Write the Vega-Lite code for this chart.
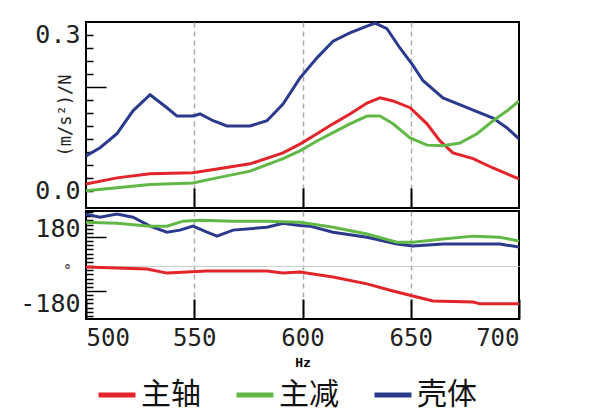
{
  "$schema": "https://vega.github.io/schema/vega-lite/v6.json",
  "padding": {"left": 18, "top": 21, "right": 80, "bottom": 0},
  "background": "white",
  "spacing": 0,
  "datasets": {
    "mag": [
      {"p": "壳体", "hz": 500, "v": 0.067}, {"p": "壳体", "hz": 506.5, "v": 0.083}, {"p": "壳体", "hz": 514.3, "v": 0.110}, {"p": "壳体", "hz": 521.7, "v": 0.154}, {"p": "壳体", "hz": 529.6, "v": 0.185}, {"p": "壳体", "hz": 537.4, "v": 0.160}, {"p": "壳体", "hz": 542, "v": 0.144}, {"p": "壳体", "hz": 549.4, "v": 0.144}, {"p": "壳体", "hz": 552.7, "v": 0.148}, {"p": "壳体", "hz": 558.7, "v": 0.135}, {"p": "壳体", "hz": 565.1, "v": 0.125}, {"p": "壳体", "hz": 575.8, "v": 0.125}, {"p": "壳体", "hz": 583.6, "v": 0.135}, {"p": "壳体", "hz": 591, "v": 0.167}, {"p": "壳体", "hz": 598.8, "v": 0.217}, {"p": "壳体", "hz": 606.7, "v": 0.256}, {"p": "壳体", "hz": 614.1, "v": 0.288}, {"p": "壳体", "hz": 621.9, "v": 0.304}, {"p": "壳体", "hz": 629.8, "v": 0.317}, {"p": "壳体", "hz": 633.5, "v": 0.323}, {"p": "壳体", "hz": 639, "v": 0.312}, {"p": "壳体", "hz": 645, "v": 0.275}, {"p": "壳体", "hz": 650.6, "v": 0.244}, {"p": "壳体", "hz": 655.7, "v": 0.212}, {"p": "壳体", "hz": 664.9, "v": 0.179}, {"p": "壳体", "hz": 676, "v": 0.160}, {"p": "壳体", "hz": 688, "v": 0.140}, {"p": "壳体", "hz": 694.5, "v": 0.121}, {"p": "壳体", "hz": 700, "v": 0.100},
      {"p": "主轴", "hz": 500, "v": 0.013}, {"p": "主轴", "hz": 514.3, "v": 0.025}, {"p": "主轴", "hz": 529.6, "v": 0.033}, {"p": "主轴", "hz": 549.4, "v": 0.035}, {"p": "主轴", "hz": 560.5, "v": 0.042}, {"p": "主轴", "hz": 575.8, "v": 0.052}, {"p": "主轴", "hz": 591, "v": 0.073}, {"p": "主轴", "hz": 598.8, "v": 0.090}, {"p": "主轴", "hz": 606.7, "v": 0.110}, {"p": "主轴", "hz": 614.1, "v": 0.129}, {"p": "主轴", "hz": 621.9, "v": 0.148}, {"p": "主轴", "hz": 629.8, "v": 0.169}, {"p": "主轴", "hz": 635.8, "v": 0.179}, {"p": "主轴", "hz": 641.8, "v": 0.173}, {"p": "主轴", "hz": 649.7, "v": 0.160}, {"p": "主轴", "hz": 657.5, "v": 0.129}, {"p": "主轴", "hz": 663.5, "v": 0.096}, {"p": "主轴", "hz": 669.5, "v": 0.073}, {"p": "主轴", "hz": 678.8, "v": 0.062}, {"p": "主轴", "hz": 688, "v": 0.044}, {"p": "主轴", "hz": 700, "v": 0.023},
      {"p": "主减", "hz": 500, "v": 0.0}, {"p": "主减", "hz": 514.3, "v": 0.006}, {"p": "主减", "hz": 529.6, "v": 0.012}, {"p": "主减", "hz": 549.4, "v": 0.015}, {"p": "主减", "hz": 560.5, "v": 0.025}, {"p": "主减", "hz": 575.8, "v": 0.038}, {"p": "主减", "hz": 591, "v": 0.062}, {"p": "主减", "hz": 598.8, "v": 0.077}, {"p": "主减", "hz": 606.7, "v": 0.096}, {"p": "主减", "hz": 614.1, "v": 0.112}, {"p": "主减", "hz": 621.9, "v": 0.129}, {"p": "主减", "hz": 629.8, "v": 0.144}, {"p": "主减", "hz": 635.8, "v": 0.144}, {"p": "主减", "hz": 641.8, "v": 0.129}, {"p": "主减", "hz": 649.7, "v": 0.102}, {"p": "主减", "hz": 657.5, "v": 0.088}, {"p": "主减", "hz": 664.9, "v": 0.087}, {"p": "主减", "hz": 672.7, "v": 0.092}, {"p": "主减", "hz": 680.6, "v": 0.110}, {"p": "主减", "hz": 688, "v": 0.135}, {"p": "主减", "hz": 694.5, "v": 0.154}, {"p": "主减", "hz": 700, "v": 0.173}
    ],
    "phase": [
      {"p": "壳体", "hz": 500, "v": 250}, {"p": "壳体", "hz": 506.5, "v": 235}, {"p": "壳体", "hz": 514.3, "v": 250}, {"p": "壳体", "hz": 521.7, "v": 235}, {"p": "壳体", "hz": 529.6, "v": 192}, {"p": "壳体", "hz": 537.4, "v": 163}, {"p": "壳体", "hz": 543.4, "v": 173}, {"p": "壳体", "hz": 549.4, "v": 192}, {"p": "壳体", "hz": 555.9, "v": 163}, {"p": "壳体", "hz": 560.5, "v": 144}, {"p": "壳体", "hz": 567.9, "v": 173}, {"p": "壳体", "hz": 583.6, "v": 187}, {"p": "壳体", "hz": 591, "v": 206}, {"p": "壳体", "hz": 598.8, "v": 195}, {"p": "壳体", "hz": 603.5, "v": 192}, {"p": "壳体", "hz": 614.1, "v": 163}, {"p": "壳体", "hz": 629.8, "v": 139}, {"p": "壳体", "hz": 643.6, "v": 106}, {"p": "壳体", "hz": 651, "v": 96}, {"p": "壳体", "hz": 664.9, "v": 106}, {"p": "壳体", "hz": 691.2, "v": 106}, {"p": "壳体", "hz": 700, "v": 91},
      {"p": "主减", "hz": 500, "v": 211}, {"p": "主减", "hz": 514.3, "v": 206}, {"p": "主减", "hz": 529.6, "v": 192}, {"p": "主减", "hz": 537.4, "v": 192}, {"p": "主减", "hz": 544.8, "v": 216}, {"p": "主减", "hz": 552.7, "v": 221}, {"p": "主减", "hz": 567.9, "v": 216}, {"p": "主减", "hz": 583.6, "v": 216}, {"p": "主减", "hz": 598.8, "v": 211}, {"p": "主减", "hz": 614.1, "v": 187}, {"p": "主减", "hz": 629.8, "v": 154}, {"p": "主减", "hz": 643.6, "v": 115}, {"p": "主减", "hz": 651, "v": 115}, {"p": "主减", "hz": 664.9, "v": 130}, {"p": "主减", "hz": 678.8, "v": 144}, {"p": "主减", "hz": 691.2, "v": 139}, {"p": "主减", "hz": 700, "v": 120},
      {"p": "主轴", "hz": 500, "v": -5}, {"p": "主轴", "hz": 528.2, "v": -14}, {"p": "主轴", "hz": 537.4, "v": -34}, {"p": "主轴", "hz": 555.9, "v": -24}, {"p": "主轴", "hz": 583.6, "v": -24}, {"p": "主轴", "hz": 591, "v": -34}, {"p": "主轴", "hz": 598.8, "v": -29}, {"p": "主轴", "hz": 614.1, "v": -53}, {"p": "主轴", "hz": 629.8, "v": -86}, {"p": "主轴", "hz": 641.8, "v": -120}, {"p": "主轴", "hz": 651, "v": -144}, {"p": "主轴", "hz": 660.3, "v": -168}, {"p": "主轴", "hz": 678.8, "v": -173}, {"p": "主轴", "hz": 682, "v": -182}, {"p": "主轴", "hz": 700, "v": -182}
    ]
  },
  "vconcat": [
    {
      "data": {"name": "mag"},
      "width": 433,
      "height": 186,
      "mark": {"type": "line", "strokeWidth": 3, "clip": true},
      "encoding": {
        "x": {
          "field": "hz", "type": "quantitative",
          "scale": {"domain": [500, 700], "nice": false, "zero": false},
          "axis": {"values": [550, 600, 650], "labels": false, "title": null, "tickSize": -20, "tickColor": "black", "tickWidth": 2, "grid": true, "gridDash": [5, 4], "gridColor": "#aaaaaa", "gridWidth": 1.5, "domain": false}
        },
        "y": {
          "field": "v", "type": "quantitative",
          "scale": {"domain": [-0.033, 0.325], "nice": false, "zero": false},
          "axis": {
            "values": [0, 0.025, 0.05, 0.075, 0.1, 0.125, 0.15, 0.175, 0.2, 0.225, 0.25, 0.275, 0.3],
            "labelExpr": "datum.value == 0 ? '0.0' : (abs(datum.value - 0.3) < 0.000001 ? '0.3' : '')",
            "tickSize": {"condition": {"test": "abs(datum.value - 0.2) < 0.000001", "value": -20}, "value": -7},
            "labelPadding": 13,
            "tickColor": "black", "tickWidth": 1.5, "grid": false, "domain": false,
            "labelFont": "DejaVu Sans Mono", "labelFontSize": 25, "labelColor": "#222",
            "title": "(m/s²)/N", "titleX": -21, "titleY": 93, "titleBaseline": "middle", "titleAlign": "center",
            "titleFont": "DejaVu Sans Mono", "titleFontSize": 17, "titleFontWeight": "normal", "titleColor": "#222"
          }
        },
        "color": {
          "field": "p", "type": "nominal",
          "scale": {"domain": ["主轴", "主减", "壳体"], "range": ["#e2242b", "#62b846", "#2b3a8c"]},
          "legend": {
            "orient": "bottom", "direction": "horizontal", "title": null, "symbolType": "stroke",
            "symbolSize": 1369, "symbolStrokeWidth": 5, "labelFont": "Noto Sans CJK SC", "labelFontSize": 30, "labelColor": "#111",
            "columnPadding": 25, "labelOffset": 3, "offset": -6, "padding": 10
          }
        }
      }
    },
    {
      "data": {"name": "phase"},
      "width": 433,
      "height": 108,
      "mark": {"type": "line", "strokeWidth": 3, "clip": true},
      "encoding": {
        "x": {
          "field": "hz", "type": "quantitative",
          "scale": {"domain": [500, 700], "nice": false, "zero": false},
          "axis": {"values": [500, 550, 600, 650, 700], "labelFlush": true, "title": "Hz", "titleFont": "DejaVu Sans Mono", "titleFontSize": 13, "titleFontWeight": "bold", "titlePadding": 6,
            "tickSize": -20,
            "tickColor": "black", "tickWidth": 2, "labelPadding": 27,
            "grid": true, "gridDash": [5, 4], "gridColor": "#aaaaaa", "gridWidth": 1.5,
            "gridOpacity": {"condition": {"test": "datum.value == 500 || datum.value == 700", "value": 0}, "value": 1},
            "domain": false, "labelFont": "DejaVu Sans Mono", "labelFontSize": 24, "labelColor": "#222"}
        },
        "y": {
          "field": "v", "type": "quantitative",
          "scale": {"domain": [-255, 265], "nice": false, "zero": false},
          "axis": {
            "values": [-240, -220, -200, -180, -160, -140, -120, -100, -80, -60, -40, -20, 0, 20, 40, 60, 80, 100, 120, 140, 160, 180, 200, 220, 240, 260],
            "labelExpr": "datum.value == 180 ? '180' : (datum.value == -180 ? '-180' : '')",
            "tickSize": {"condition": {"test": "datum.value == 140 || datum.value == -120", "value": -20}, "value": -7},
            "labelPadding": 13,
            "tickColor": "black", "tickWidth": 1.5, "domain": false,
            "grid": true, "gridColor": "#cccccc", "gridWidth": 1,
            "gridOpacity": {"condition": {"test": "datum.value == 0", "value": 1}, "value": 0},
            "labelFont": "DejaVu Sans Mono", "labelFontSize": 25, "labelColor": "#222",
            "title": "°", "titleX": -19, "titleY": 59, "titleBaseline": "middle", "titleAlign": "center", "titleAngle": 0,
            "titleFont": "DejaVu Sans Mono", "titleFontSize": 14, "titleFontWeight": "normal", "titleColor": "#222"
          }
        },
        "color": {"field": "p", "type": "nominal", "legend": null}
      }
    }
  ],
  "config": {
    "view": {"stroke": "black", "strokeWidth": 2}
  }
}
